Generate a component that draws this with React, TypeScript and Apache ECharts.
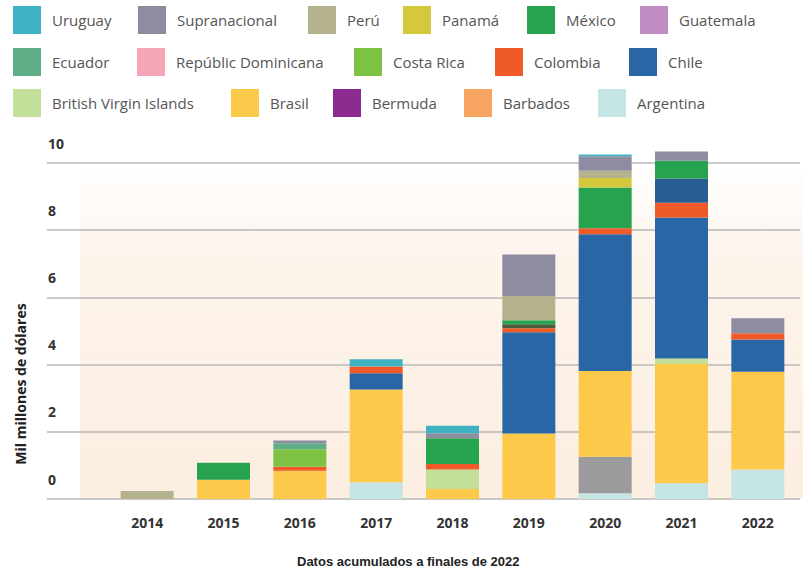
import React, { useEffect, useRef } from "react";
import * as echarts from "echarts";

const years = ["2014", "2015", "2016", "2017", "2018", "2019", "2020", "2021", "2022"];
const yTicks = [0, 2, 4, 6, 8, 10];

// stacked bottom -> top
const argentina = [0, 0, 0, 0.5, 0, 0, 0.17, 0.47, 0.88];
const otrosA = [0, 0, 0, 0, 0, 0, 1.09, 0, 0];
const barbados = [0, 0, 0, 0, 0, 0, 0, 0, 0];
const bermuda = [0, 0, 0, 0, 0, 0, 0, 0, 0];
const brasil = [0, 0.57, 0.84, 2.76, 0.3, 1.95, 2.55, 3.55, 2.91];
const bvi = [0, 0, 0, 0, 0.58, 0, 0, 0.16, 0];
const chile = [0, 0, 0, 0.48, 0, 3.01, 4.07, 4.2, 0.96];
const colombia = [0, 0, 0.12, 0.2, 0.16, 0.12, 0.18, 0.44, 0.18];
const costaRica = [0, 0, 0.52, 0, 0, 0, 0, 0, 0];
const ecuador = [0, 0, 0.18, 0, 0, 0, 0, 0, 0];
const otrosB = [0, 0, 0, 0, 0, 0.12, 0, 0.72, 0];
const guatemala = [0, 0, 0, 0, 0, 0, 0, 0, 0];
const mexico = [0, 0.51, 0, 0, 0.77, 0.12, 1.21, 0.53, 0];
const panama = [0, 0, 0, 0, 0, 0, 0.28, 0, 0];
const peru = [0.24, 0, 0, 0, 0, 0.72, 0.22, 0, 0];
const repDom = [0, 0, 0, 0, 0, 0, 0, 0, 0];
const supranacional = [0, 0, 0.08, 0, 0.15, 1.24, 0.43, 0.27, 0.45];
const uruguay = [0, 0, 0, 0.22, 0.22, 0, 0.05, 0, 0];

const seriesDefs: { name: string; data: number[]; color: string }[] = [
  { name: "Argentina", data: argentina, color: "#c5e5e5" },
  { name: "Otros A", data: otrosA, color: "#9b9b9d" },
  { name: "Barbados", data: barbados, color: "#f8a561" },
  { name: "Bermuda", data: bermuda, color: "#8b2a8f" },
  { name: "Brasil", data: brasil, color: "#fdc94b" },
  { name: "British Virgin Islands", data: bvi, color: "#c2e09a" },
  { name: "Chile", data: chile, color: "#2866a5" },
  { name: "Colombia", data: colombia, color: "#f05a28" },
  { name: "Costa Rica", data: costaRica, color: "#7dc242" },
  { name: "Ecuador", data: ecuador, color: "#5fae88" },
  { name: "Otros B", data: otrosB, color: "#275d93" },
  { name: "Guatemala", data: guatemala, color: "#c08cc4" },
  { name: "México", data: mexico, color: "#27a350" },
  { name: "Panamá", data: panama, color: "#d4c93c" },
  { name: "Perú", data: peru, color: "#b5b38e" },
  { name: "Repúblic Dominicana", data: repDom, color: "#f4a6b8" },
  { name: "Supranacional", data: supranacional, color: "#8e8ca0" },
  { name: "Uruguay", data: uruguay, color: "#3fb3c4" },
];

const otrosBColors: Record<number, string> = { 5: "#4e5a3e" };

const legendPos: { name: string; left: number; top: number }[] = [
  { name: "Uruguay", left: 13, top: 6 },
  { name: "Supranacional", left: 138, top: 6 },
  { name: "Perú", left: 308, top: 6 },
  { name: "Panamá", left: 403, top: 6 },
  { name: "México", left: 527, top: 6 },
  { name: "Guatemala", left: 640, top: 6 },
  { name: "Ecuador", left: 13, top: 48 },
  { name: "Repúblic Dominicana", left: 137, top: 48 },
  { name: "Costa Rica", left: 354, top: 48 },
  { name: "Colombia", left: 495, top: 48 },
  { name: "Chile", left: 629, top: 48 },
  { name: "British Virgin Islands", left: 13, top: 89 },
  { name: "Brasil", left: 231, top: 89 },
  { name: "Bermuda", left: 333, top: 89 },
  { name: "Barbados", left: 464, top: 89 },
  { name: "Argentina", left: 598, top: 89 },
];

export default function App() {
  const ref = useRef<HTMLDivElement>(null);
  useEffect(() => {
    if (!ref.current) return;
    document.body.style.margin = "0";
    document.body.style.overflow = "hidden";
    const chart = echarts.init(ref.current, null, { renderer: "svg" });
    const option: any = {
      animation: false,
      backgroundColor: "#ffffff",
      textStyle: { fontFamily: "Open Sans" },
      legend: legendPos.map((l) => ({
        data: [l.name],
        left: l.left,
        top: l.top,
        padding: 0,
        itemWidth: 28,
        itemHeight: 28,
        icon: "rect",
        selectedMode: false,
        textStyle: { color: "#555", fontSize: 15, fontFamily: "Open Sans", padding: [0, 0, 2, 6] },
      })),
      title: {
        text: "Datos acumulados a finales de 2022",
        left: 297,
        top: 555,
        padding: 0,
        textStyle: { fontFamily: "Liberation Sans", fontWeight: "bold", fontSize: 13, color: "#222" },
      },
      graphic: [
        {
          type: "rect",
          z: -10,
          silent: true,
          shape: { x: 80, y: 163, width: 723, height: 336 },
          style: {
            fill: new echarts.graphic.LinearGradient(0, 0, 0, 1, [
              { offset: 0, color: "rgba(252,240,228,0)" },
              { offset: 0.3, color: "rgba(252,240,228,0.75)" },
              { offset: 1, color: "rgba(252,238,224,1)" },
            ]),
          },
        },
        {
          type: "text",
          x: 20,
          y: 384,
          rotation: Math.PI / 2,
          style: {
            text: "Mil millones de dólares",
            fontFamily: "Open Sans",
            fontWeight: "bold",
            fontSize: 14,
            fill: "#222",
            textAlign: "center",
            textVerticalAlign: "middle",
          },
        },
      ],
      grid: [
        { left: 47, right: 3, top: 163, bottom: 72 },
        { left: 109, right: 7, top: 163, bottom: 72 },
      ],
      xAxis: [
        { gridIndex: 0, type: "value", min: 0, max: 1, show: false },
        {
          gridIndex: 1,
          type: "category",
          data: years,
          axisLine: { show: false },
          axisTick: { show: false },
          axisLabel: { margin: 16, fontSize: 14, fontWeight: "bold", color: "#333", fontFamily: "Open Sans" },
        },
      ],
      yAxis: [
        {
          gridIndex: 0,
          type: "value",
          min: yTicks[0],
          max: yTicks[yTicks.length - 1],
          interval: 2,
          axisLine: { show: false },
          axisTick: { show: false },
          splitLine: { show: true, lineStyle: { color: "#b9b9b9", width: 1.5 } },
          axisLabel: {
            inside: true,
            margin: 1,
            verticalAlign: "bottom",
            padding: [0, 0, 13, 0],
            fontSize: 14,
            fontWeight: "bold",
            color: "#333",
            fontFamily: "Open Sans",
          },
        },
        { gridIndex: 1, type: "value", min: 0, max: 10, show: false },
      ],
      series: seriesDefs.map((s) => ({
        name: s.name,
        type: "bar",
        stack: "total",
        clip: false,
        xAxisIndex: 1,
        yAxisIndex: 1,
        barWidth: 53,
        itemStyle: { color: s.color },
        data:
          s.name === "Otros B"
            ? s.data.map((v, i) => (otrosBColors[i] ? { value: v, itemStyle: { color: otrosBColors[i] } } : v))
            : s.data,
      })),
    };
    chart.setOption(option);
    return () => chart.dispose();
  }, []);
  return <div ref={ref} style={{ position: "absolute", left: 0, top: 0, width: 803, height: 571 }} />;
}
